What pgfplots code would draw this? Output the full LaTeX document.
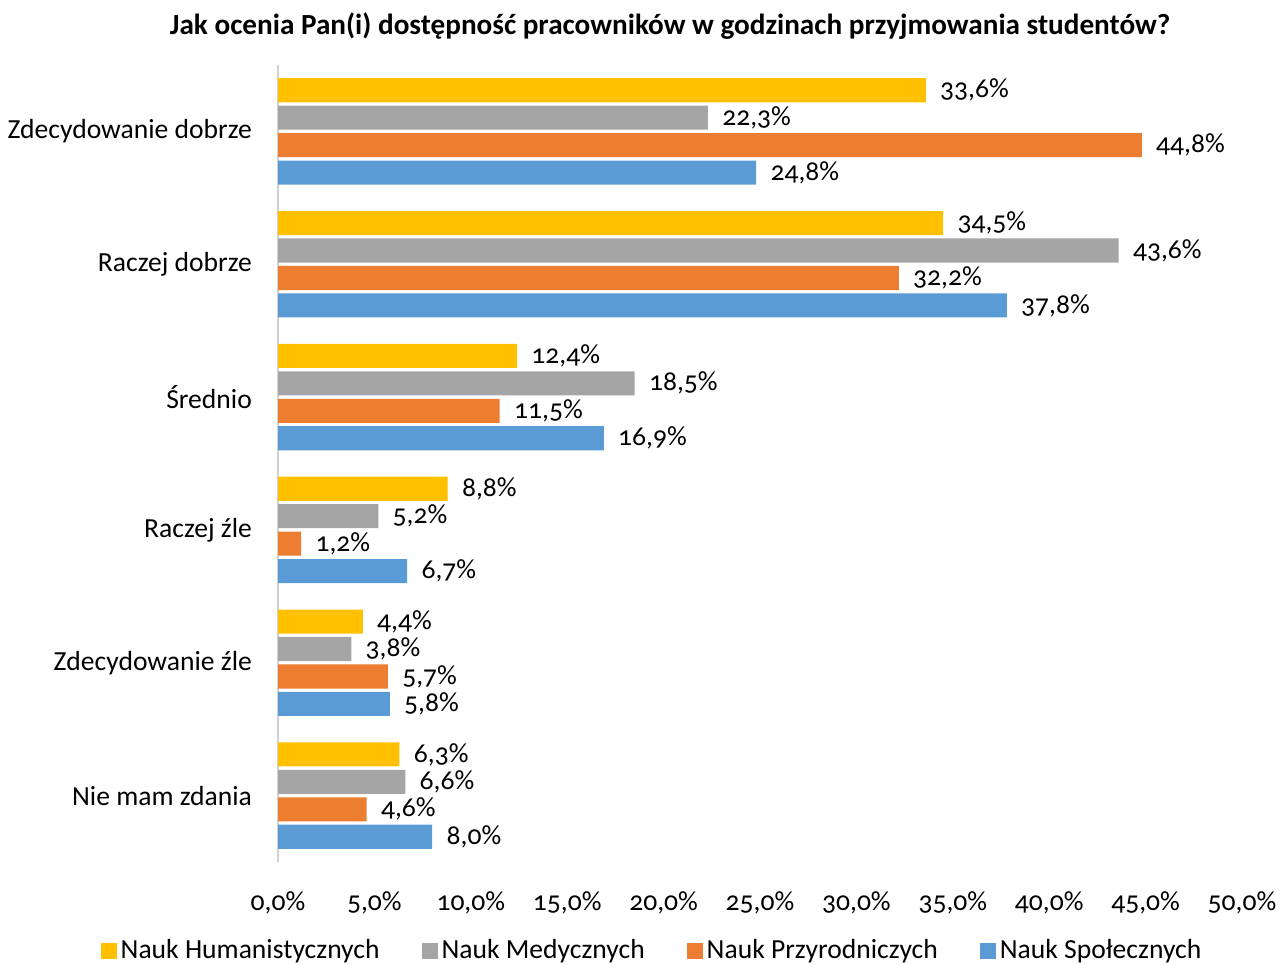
\documentclass[border=0pt]{standalone}
\usepackage{pgfplots}
\pgfplotsset{compat=1.18}
\usepackage{fontspec}
\setmainfont{Carlito}[Numbers=OldStyle]
\definecolor{cyel}{HTML}{FFC000}
\definecolor{cgry}{HTML}{A5A5A5}
\definecolor{corg}{HTML}{ED7D31}
\definecolor{cblu}{HTML}{5B9BD5}
\begin{document}
\fontsize{13.8pt}{16pt}\selectfont
\begin{tikzpicture}
\begin{axis}[
  name=a,
  scale only axis,
  width=482pt,
  height=398.5pt,
  xbar,
  bar width=0.181,
  y dir=reverse,
  xmin=0, xmax=50,
  ymin=-0.5, ymax=5.5,
  xtick={0,5,...,50},
  ytick={0,...,5},
  yticklabels={Zdecydowanie dobrze,Raczej dobrze,Średnio,Raczej źle,Zdecydowanie źle,Nie mam zdania},
  xticklabel={\pgfmathprintnumber[fixed,fixed zerofill,precision=1,use comma]{\tick}\%},
  /pgf/number format/assume math mode=true,
  tick style={draw=none},
  axis x line*=bottom,
  axis y line*=left,
  x axis line style={draw=none},
  y axis line style={draw=black!18, line width=1.2pt},
  xticklabel style={yshift=-10pt},
  yticklabel style={xshift=-4pt},
  title={\fontsize{14.6pt}{17pt}\selectfont\bfseries Jak ocenia Pan(i) dostępność pracowników w godzinach przyjmowania studentów?},
  title style={yshift=2pt, xshift=-45pt},
  nodes near coords={\pgfmathprintnumber[fixed,fixed zerofill,precision=1,use comma]{\pgfplotspointmeta}\%},
  nodes near coords style={anchor=west, inner sep=0pt, xshift=7pt, black},
  legend style={at={(0.389,-0.1117)}, anchor=center, draw=none, legend columns=-1,
    /tikz/every even column/.append style={column sep=19pt}},
  legend image code/.code={\fill[#1] (0pt,-4pt) rectangle (8pt,4pt);},
  clip=false,
]
\addplot[fill=cyel, draw=none, bar shift=-0.31] coordinates {(33.6,0) (34.5,1) (12.4,2) (8.8,3) (4.4,4) (6.3,5)};
\addplot[fill=cgry, draw=none, bar shift=-0.1035] coordinates {(22.3,0) (43.6,1) (18.5,2) (5.2,3) (3.8,4) (6.6,5)};
\addplot[fill=corg, draw=none, bar shift=0.1035] coordinates {(44.8,0) (32.2,1) (11.5,2) (1.2,3) (5.7,4) (4.6,5)};
\addplot[fill=cblu, draw=none, bar shift=0.31] coordinates {(24.8,0) (37.8,1) (16.9,2) (6.7,3) (5.8,4) (8.0,5)};
\legend{Nauk Humanistycznych,Nauk Medycznych,Nauk Przyrodniczych,Nauk Społecznych}
\end{axis}
\pgfresetboundingbox
\path ([shift={(-139pt,-51.5pt)}]a.south west) rectangle ([shift={(19pt,32.5pt)}]a.north east);
\end{tikzpicture}
\end{document}
